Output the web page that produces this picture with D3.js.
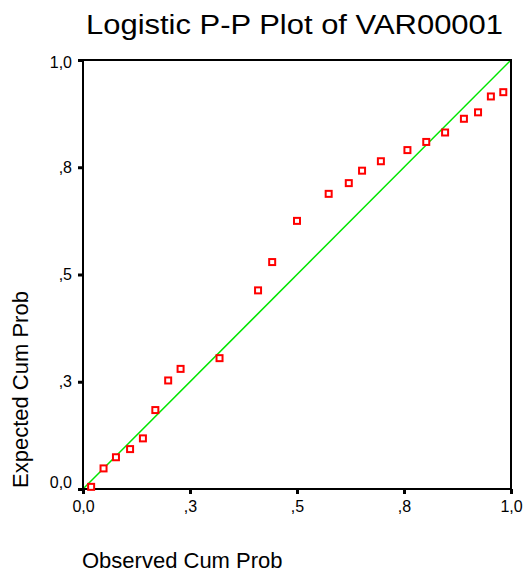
<!DOCTYPE html>
<html>
<head>
<meta charset="utf-8">
<script src="https://cdn.jsdelivr.net/npm/d3@7"></script>
<style>
  body { margin: 0; background: #fff; }
  text { font-family: Arial, "Liberation Sans", sans-serif; fill: #000; }
</style>
</head>
<body>
<script>
// observed vs expected cumulative probabilities
var observed = [0.019, 0.048, 0.077, 0.110, 0.140, 0.169, 0.199, 0.228, 0.319, 0.409, 0.442, 0.500,
                0.574, 0.621, 0.652, 0.696, 0.758, 0.802, 0.846, 0.890, 0.923, 0.953, 0.982]
var expected = [0.005, 0.048, 0.074, 0.093, 0.118, 0.184, 0.253, 0.280, 0.305, 0.463, 0.529, 0.625,
                0.688, 0.713, 0.742, 0.764, 0.790, 0.809, 0.831, 0.863, 0.878, 0.915, 0.925]
var tickValues = [0, 0.25, 0.5, 0.75, 1]
var tickLabels = ['0,0', ',3', ',5', ',8', '1,0']

var width = 523
var height = 573
var plotLeft = 83, plotRight = 511, plotTop = 60, plotBottom = 489

var svg = d3.select('body')
    .append('svg')
    .attr('width', width)
    .attr('height', height)

var xScale = d3.scaleLinear()
    .domain([0, 1])
    .range([plotLeft, plotRight])

var yScale = d3.scaleLinear()
    .domain([0, 1])
    .range([plotBottom, plotTop])

// title
svg.append('text')
    .text('Logistic P-P Plot of VAR00001')
    .attr('x', 86)
    .attr('y', 34)
    .attr('textLength', 417)
    .attr('lengthAdjust', 'spacingAndGlyphs')
    .style('font-size', '27px')

// reference line
svg.append('line')
    .attr('x1', xScale(0))
    .attr('y1', yScale(0))
    .attr('x2', xScale(1))
    .attr('y2', yScale(1))
    .style('stroke', '#00e600')
    .style('stroke-width', 1.5)

// frame
svg.append('rect')
    .attr('x', plotLeft)
    .attr('y', plotTop)
    .attr('width', plotRight - plotLeft)
    .attr('height', plotBottom - plotTop)
    .style('fill', 'none')
    .style('stroke', '#000')
    .style('stroke-width', 2)

// x axis
var xAxis = svg.append('g')
    .attr('transform', 'translate(0,' + plotBottom + ')')
    .call(d3.axisBottom(xScale)
        .tickValues(tickValues)
        .tickFormat((d, i) => tickLabels[i])
        .tickSizeInner(5)
        .tickSizeOuter(0)
        .tickPadding(7))
xAxis.select('.domain').remove()
xAxis.selectAll('line').style('stroke', '#000').style('stroke-width', 3)
xAxis.selectAll('text').style('font-size', '16px').style('font-family', 'Arial, "Liberation Sans", sans-serif')

// y axis
var yAxis = svg.append('g')
    .attr('transform', 'translate(' + plotLeft + ',0)')
    .call(d3.axisLeft(yScale)
        .tickValues(tickValues)
        .tickFormat((d, i) => tickLabels[i])
        .tickSizeInner(5)
        .tickSizeOuter(0)
        .tickPadding(6))
yAxis.select('.domain').remove()
yAxis.selectAll('line').style('stroke', '#000').style('stroke-width', 3)
yAxis.selectAll('text')
    .style('font-size', '16px')
    .style('font-family', 'Arial, "Liberation Sans", sans-serif')
    .attr('dy', d => d == 0 ? '-0.1em' : (d == 1 ? '0.45em' : '0.32em'))

// points
svg.append('g')
    .selectAll('rect')
    .data(observed)
    .enter()
    .append('rect')
    .attr('x', (d, i) => xScale(d) - 3)
    .attr('y', (d, i) => yScale(expected[i]) - 3)
    .attr('width', 6)
    .attr('height', 6)
    .style('fill', '#fff')
    .style('stroke', '#ff0000')
    .style('stroke-width', 2)

// axis titles
svg.append('text')
    .text('Observed Cum Prob')
    .attr('x', 82)
    .attr('y', 568)
    .style('font-size', '22px')

svg.append('text')
    .text('Expected Cum Prob')
    .attr('transform', 'translate(28, 488) rotate(-90)')
    .style('font-size', '22px')
</script>
</body>
</html>
